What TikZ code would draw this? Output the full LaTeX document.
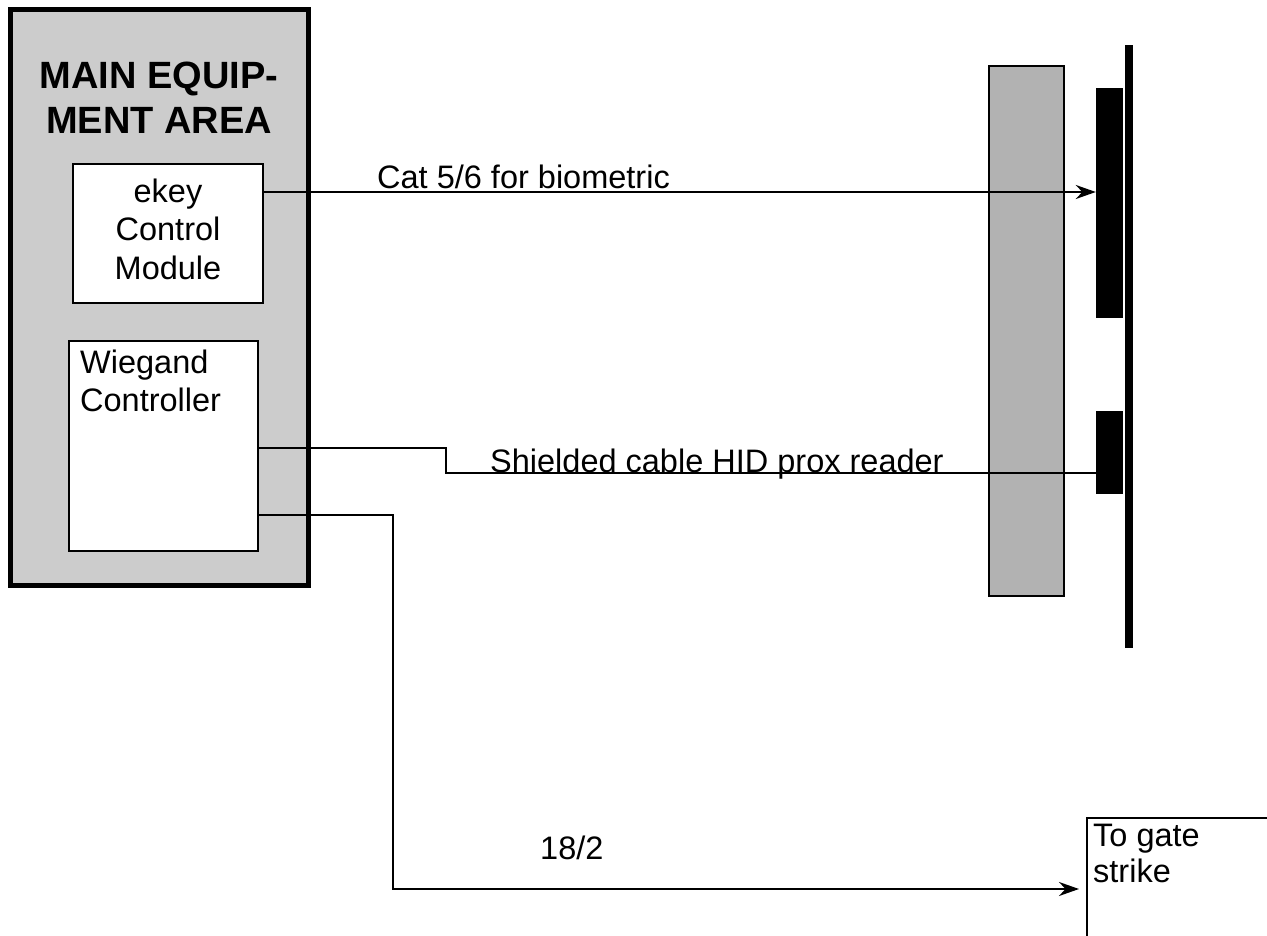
\documentclass[tikz,border=0pt]{standalone}
\usepackage{fontspec}
\setmainfont{Liberation Sans}
\usetikzlibrary{arrows.meta,calc}
\begin{document}
\begin{tikzpicture}[x=1pt,y=-1pt,
  areabox/.style={draw, line width=5pt, fill=black!20, inner sep=0pt},
  modbox/.style={draw, line width=2pt, fill=white, inner sep=0pt},
  panelbox/.style={draw, line width=2.5pt, fill=black!30, inner sep=0pt},
  blk/.style={fill=black, inner sep=0pt},
  wire/.style={line width=2pt},
  arr/.style={wire, -{Stealth[length=20pt,width=14pt]}},
  txt/.style={font=\fontsize{32.5}{38.5}\selectfont, inner sep=0pt},
  ttl/.style={font=\bfseries\fontsize{38}{45}\selectfont, align=center, inner sep=0pt}]
\useasboundingbox (0,0) rectangle (1267,936);
\fill[white] (0,0) rectangle (1267,936);
\clip (0,0) rectangle (1267,936);

% main equipment area
\node[areabox, minimum width=297.5pt, minimum height=575.5pt] (main) at (159.25,297.25) {};
\node[ttl, anchor=north] (title) at (159,62) {MAIN EQUIP-\\MENT AREA};

\node[modbox, minimum width=190pt, minimum height=139pt] (ekey) at (168,233.5) {};
\node[txt, align=center, anchor=north] (ektext) at (168,178.5) {ekey\\Control\\Module};

\node[modbox, line width=2.5pt, minimum width=189pt, minimum height=210pt] (wieg) at (163.5,446) {};
\node[txt, font=\fontsize{32.5}{38}\selectfont, align=left, anchor=north west] (wtext) at (80,349.5) {Wiegand\\Controller};

% door side
\node[panelbox, minimum width=75pt, minimum height=530pt] (panel) at (1026.5,331) {};
\node[blk, minimum width=8pt, minimum height=603pt] (bar) at (1129,346.5) {};
\node[blk, minimum width=27pt, minimum height=230pt] (bio) at (1109.5,203) {};
\node[blk, minimum width=27pt, minimum height=83pt] (prox) at (1109.5,452.5) {};

% gate strike
\node[draw, line width=2pt, inner sep=0pt, minimum width=200pt, minimum height=160pt] (gate) at (1187,898) {};
\node[txt, font=\fontsize{32.5}{35.5}\selectfont, align=left, anchor=north west] (gtext) at (1093,824) {To gate\\strike};

% connectors
\draw[arr] (ekey.east |- 0,192) -- (bio.west |- 0,192);
\node[txt, anchor=base west] (catlbl) at (377,189) {Cat 5/6 for biometric};

\coordinate (b1) at (446,448);
\coordinate (b2) at (446,473);
\draw[wire] (wieg.east |- b1) -- (b1) -- (b2) -- (b2 -| prox.west);
\node[txt, anchor=base west] (shlbl) at (490,472) {Shielded cable HID prox reader};

\coordinate (b3) at (393,515);
\coordinate (b4) at (393,889);
\draw[arr, shorten >=7pt] (wieg.east |- b3) -- (b3) -- (b4) -- (b4 -| gate.west);
\node[txt, anchor=base west] (stlbl) at (540,859) {18/2};
\end{tikzpicture}
\end{document}
